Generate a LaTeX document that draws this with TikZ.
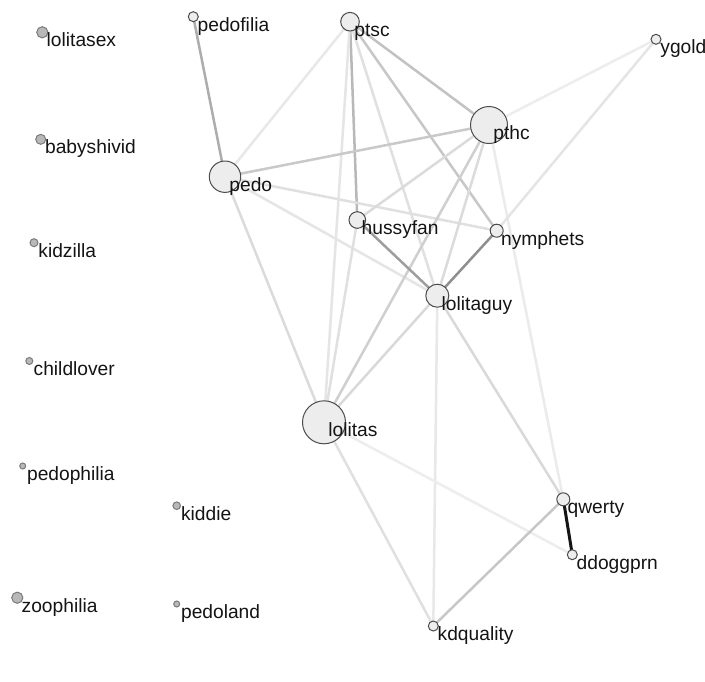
\documentclass[tikz,border=0pt]{standalone}
\usepackage{fontspec}
\setmainfont{Liberation Sans}
\usetikzlibrary{backgrounds}
\begin{document}
\begin{tikzpicture}[x=0.5pt,y=-0.5pt,
  vert/.style={circle, draw=black!70, fill=black!7, line width=0.5pt, inner sep=0pt, minimum size=#1pt},
  iso/.style={circle, draw=black!52, fill=black!28, line width=0.5pt, inner sep=0pt, minimum size=#1pt},
  lab/.style={anchor=base west, inner sep=0pt, xshift=2pt, yshift=-7.3pt, font=\fontsize{9.6}{11}\selectfont, text=black!92},
  edge/.style={line width=1.25pt, draw=black!#1, line cap=round}]
\useasboundingbox (0,0) rectangle (705,681);
% isolated vertices
\node[iso=5.6] (lolitasex) at (42.3,32.3) {};
\node[iso=5] (babyshivid) at (40.7,139.3) {};
\node[iso=4] (kidzilla) at (34,242.7) {};
\node[iso=3.5] (childlover) at (29.3,361) {};
\node[iso=3] (pedophilia) at (22.7,466) {};
\node[iso=3.8] (kiddie) at (176.7,505.7) {};
\node[iso=5.6] (zoophilia) at (17.3,597.7) {};
\node[iso=3] (pedoland) at (176.7,604) {};
% connected vertices
\node[vert=5] (pedofilia) at (193.3,16.7) {};
\node[vert=9.3] (ptsc) at (350,21.7) {};
\node[vert=5] (ygold) at (656,39.3) {};
\node[vert=18.5] (pthc) at (489,125) {};
\node[vert=15.7] (pedo) at (225,176.7) {};
\node[vert=8.3] (hussyfan) at (357.3,220) {};
\node[vert=6.5] (nymphets) at (496.7,230.7) {};
\node[vert=11.5] (lolitaguy) at (437.3,295.7) {};
\node[vert=21.5] (lolitas) at (324,422.3) {};
\node[vert=6.5] (qwerty) at (563.3,499.3) {};
\node[vert=5] (ddoggprn) at (572.3,554.7) {};
\node[vert=5] (kdquality) at (433.3,626) {};
% labels
\foreach \n in {lolitasex,babyshivid,kidzilla,childlover,pedophilia,kiddie,zoophilia,pedoland,pedofilia,ptsc,ygold,pthc,pedo,hussyfan,nymphets,lolitaguy,lolitas,qwerty,ddoggprn,kdquality}
  \node[lab] (\n-l) at (\n.center) {\n};
% edges
\begin{scope}[on background layer]
\fill[white] (0,0) rectangle (705,681);
\draw[edge=32] (pedofilia.center) -- (pedo.center);
\draw[edge=9] (ptsc.center) -- (pedo.center);
\draw[edge=24] (ptsc.center) -- (pthc.center);
\draw[edge=28] (ptsc.center) -- (hussyfan.center);
\draw[edge=10] (ptsc.center) -- (lolitas.center);
\draw[edge=12] (ptsc.center) -- (lolitaguy.center);
\draw[edge=22] (ptsc.center) -- (nymphets.center);
\draw[edge=21] (pedo.center) -- (pthc.center);
\draw[edge=12] (pedo.center) -- (nymphets.center);
\draw[edge=10] (pedo.center) -- (lolitaguy.center);
\draw[edge=14] (pedo.center) -- (lolitas.center);
\draw[edge=14] (pthc.center) -- (hussyfan.center);
\draw[edge=14] (pthc.center) -- (lolitaguy.center);
\draw[edge=19] (pthc.center) -- (lolitas.center);
\draw[edge=8] (pthc.center) -- (qwerty.center);
\draw[edge=7] (pthc.center) -- (ygold.center);
\draw[edge=10] (ygold.center) -- (nymphets.center);
\draw[edge=38] (hussyfan.center) -- (lolitaguy.center);
\draw[edge=44] (nymphets.center) -- (lolitaguy.center);
\draw[edge=12] (hussyfan.center) -- (lolitas.center);
\draw[edge=15] (lolitaguy.center) -- (lolitas.center);
\draw[edge=15] (lolitaguy.center) -- (qwerty.center);
\draw[edge=9] (lolitaguy.center) -- (kdquality.center);
\draw[edge=12] (lolitas.center) -- (kdquality.center);
\draw[edge=7] (lolitas.center) -- (ddoggprn.center);
\draw[edge=92, line width=1.5pt] (qwerty.center) -- (ddoggprn.center);
\draw[edge=22] (qwerty.center) -- (kdquality.center);
\end{scope}
\end{tikzpicture}
\end{document}
